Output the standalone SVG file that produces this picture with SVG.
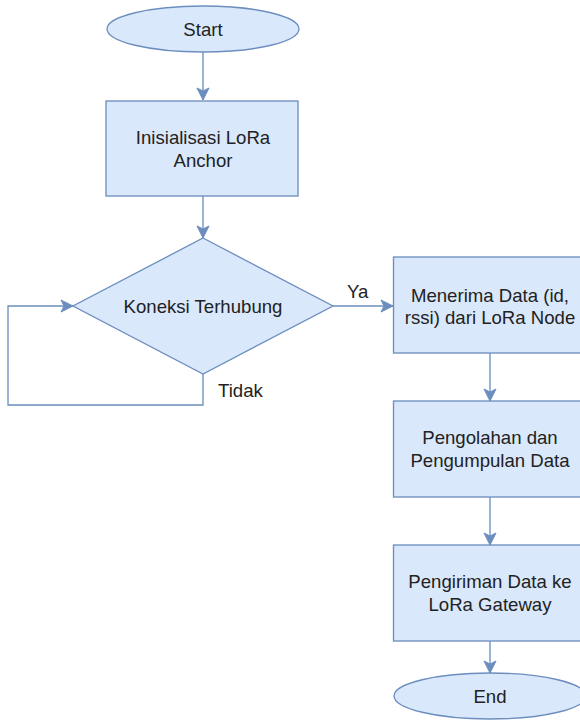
<svg xmlns="http://www.w3.org/2000/svg" width="580" height="721" viewBox="0 0 580 721">
<style>
.shape{fill:#dae8fc;stroke:#6c8ebf;stroke-width:1.33}
.edge{fill:none;stroke:#6c8ebf;stroke-width:1.33}
text{font-family:"Liberation Sans",Arial,sans-serif;font-size:18.6px;fill:#222;text-anchor:middle}
.lbl{text-anchor:start}
</style>
<defs>
<marker id="arr" markerUnits="userSpaceOnUse" markerWidth="14" markerHeight="14" viewBox="0 0 14 14" refX="13" refY="7" orient="auto">
<path d="M1,1 L13,7 L1,13 L4,7 Z" fill="#6c8ebf" stroke="#6c8ebf" stroke-width="1"/>
</marker>
</defs>
<rect width="580" height="721" fill="#ffffff"/>
<g id="connectors">
<path class="edge" d="M203,52 L203,100" marker-end="url(#arr)"/>
<path class="edge" d="M203,196 L203,238" marker-end="url(#arr)"/>
<path class="edge" d="M333,306 L393,306" marker-end="url(#arr)"/>
<path class="edge" d="M203,374 L203,405 L8,405 L8,306 L73,306" marker-end="url(#arr)"/>
<path class="edge" d="M490,353 L490,401" marker-end="url(#arr)"/>
<path class="edge" d="M490,497 L490,545" marker-end="url(#arr)"/>
<path class="edge" d="M490,641 L490,673" marker-end="url(#arr)"/>
<text class="lbl" x="347" y="298">Ya</text>
<text class="lbl" x="218" y="397">Tidak</text>
</g>
<g id="start">
<ellipse class="shape" cx="203" cy="29" rx="96" ry="23"/>
<text x="203" y="35.5">Start</text>
</g>
<g id="init">
<rect class="shape" x="106" y="101" width="192" height="95"/>
<text x="203" y="144">Inisialisasi LoRa</text>
<text x="203" y="166.5">Anchor</text>
</g>
<g id="decision">
<path class="shape" d="M203,238 L333,306 L203,374 L73,306 Z"/>
<text x="203" y="312.5">Koneksi Terhubung</text>
</g>
<g id="receive">
<rect class="shape" x="393.5" y="257" width="193" height="96"/>
<text x="490" y="301.5">Menerima Data (id,</text>
<text x="490" y="324">rssi) dari LoRa Node</text>
</g>
<g id="process">
<rect class="shape" x="393.5" y="401" width="193" height="96"/>
<text x="490" y="444">Pengolahan dan</text>
<text x="490" y="466.5">Pengumpulan Data</text>
</g>
<g id="send">
<rect class="shape" x="393.5" y="545" width="193" height="96"/>
<text x="490" y="588">Pengiriman Data ke</text>
<text x="490" y="610.5">LoRa Gateway</text>
</g>
<g id="end">
<ellipse class="shape" cx="490" cy="696" rx="96" ry="23"/>
<text x="490" y="702.5">End</text>
</g>
</svg>
